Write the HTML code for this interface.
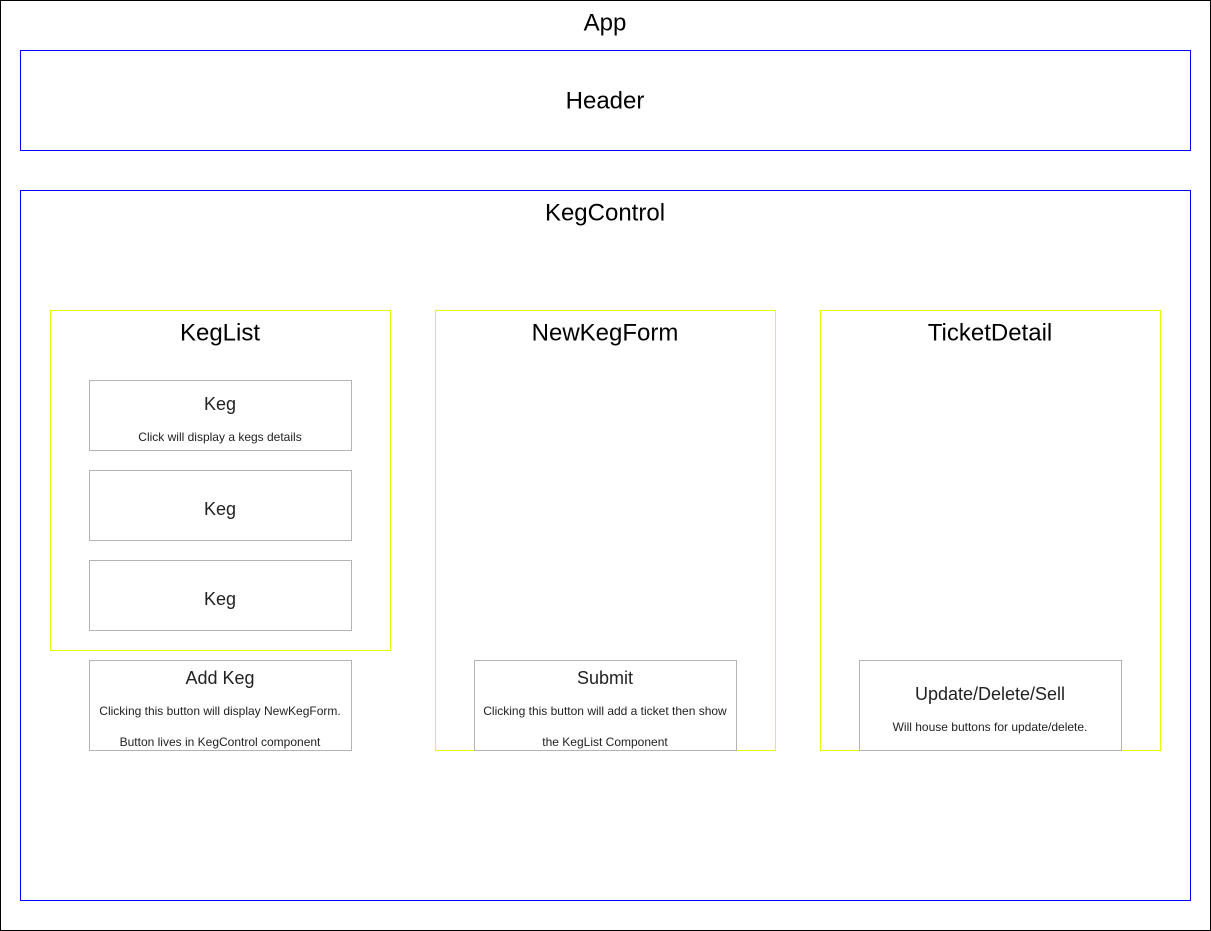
<!DOCTYPE html>
<html><head><style>body{margin:0;background:#fff}svg{display:block}text{font-family:"Liberation Sans",Arial,sans-serif;text-anchor:middle;dominant-baseline:central;fill:#000}.s{font-size:12px;fill:#222}.m{font-size:18px;fill:#222}.l{font-size:24px}</style></head><body>
<svg width="1211" height="931" xmlns="http://www.w3.org/2000/svg">
<rect x="0.5" y="0.5" width="1210" height="930" fill="#fff" stroke="#000"/>
<text x="605" y="23" class="l">App</text>
<rect x="20.5" y="50.5" width="1170" height="100" fill="none" stroke="#00f"/>
<text x="605" y="101" class="l">Header</text>
<rect x="20.5" y="190.5" width="1170" height="710" fill="none" stroke="#00f"/>
<text x="605" y="213" class="l">KegControl</text>
<rect x="50.5" y="310.5" width="340" height="340" fill="none" stroke="#e6ff00"/>
<rect x="435.5" y="310.5" width="340" height="440" fill="none" stroke="#e6ff00"/>
<rect x="820.5" y="310.5" width="340" height="440" fill="none" stroke="#e6ff00"/>
<text x="220" y="333" class="l">KegList</text>
<text x="605" y="333" class="l">NewKegForm</text>
<text x="990" y="333" class="l">TicketDetail</text>
<g fill="#fff" stroke="#b3b3b3">
<rect x="89.5" y="380.5" width="262" height="70"/>
<rect x="89.5" y="470.5" width="262" height="70"/>
<rect x="89.5" y="560.5" width="262" height="70"/>
<rect x="89.5" y="660.5" width="262" height="90"/>
<rect x="474.5" y="660.5" width="262" height="90"/>
<rect x="859.5" y="660.5" width="262" height="90"/>
</g>
<text x="220" y="404" class="m">Keg</text>
<text x="220" y="437" class="s">Click will display a kegs details</text>
<text x="220" y="509" class="m">Keg</text>
<text x="220" y="599" class="m">Keg</text>
<text x="220" y="678" class="m">Add Keg</text>
<text x="220" y="711" class="s">Clicking this button will display NewKegForm.</text>
<text x="220" y="742" class="s">Button lives in KegControl component</text>
<text x="605" y="678" class="m">Submit</text>
<text x="605" y="711" class="s">Clicking this button will add a ticket then show</text>
<text x="605" y="742" class="s">the KegList Component</text>
<text x="990" y="694" class="m">Update/Delete/Sell</text>
<text x="990" y="727" class="s">Will house buttons for update/delete.</text>
</svg>
</body></html>
